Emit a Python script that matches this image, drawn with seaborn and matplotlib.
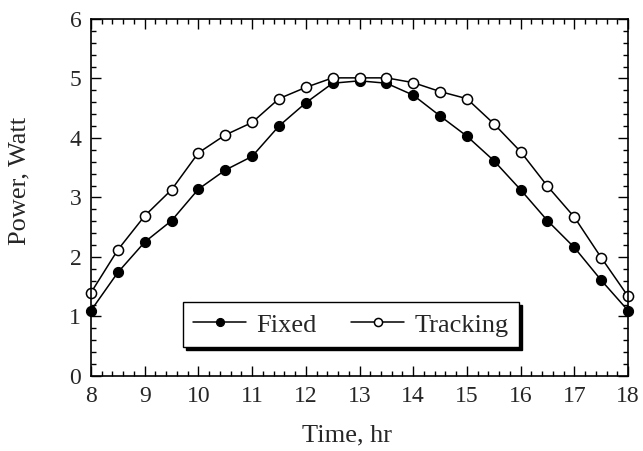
import matplotlib
matplotlib.use("Agg")
import matplotlib.pyplot as plt
from matplotlib.ticker import MultipleLocator
import numpy as np
import seaborn as sns
import pandas as pd

hours = [8, 8.5, 9, 9.5, 10, 10.5, 11, 11.5, 12, 12.5, 13,
         13.5, 14, 14.5, 15, 15.5, 16, 16.5, 17, 17.5, 18]
fixed = [1.10, 1.74, 2.25, 2.61, 3.14, 3.46, 3.69, 4.20, 4.59, 4.92, 4.96,
         4.92, 4.72, 4.37, 4.03, 3.62, 3.13, 2.61, 2.16, 1.61, 1.10]
tracking = [1.40, 2.12, 2.69, 3.13, 3.75, 4.05, 4.26, 4.66, 4.85, 5.01, 5.01,
            5.01, 4.93, 4.78, 4.66, 4.24, 3.77, 3.19, 2.67, 1.99, 1.34]

df = pd.DataFrame({"Time": hours, "Fixed": fixed, "Tracking": tracking})

sns.set_style("ticks")
plt.rcParams["font.family"] = ["Liberation Serif", "DejaVu Serif"]

fig = plt.figure(figsize=(6.43, 4.51), dpi=100)
ax = fig.add_axes([0.1415, 0.1663, 0.8352, 0.7917])

sns.lineplot(data=df, x="Time", y="Fixed", ax=ax, color="black", lw=1.1,
             marker="o", markersize=7.3, markerfacecolor="black",
             markeredgecolor="black", label="Fixed", clip_on=False)
sns.lineplot(data=df, x="Time", y="Tracking", ax=ax, color="black", lw=1.1,
             marker="o", markersize=7.3, markerfacecolor="white",
             markeredgecolor="black", markeredgewidth=1.1, label="Tracking",
             clip_on=False)

ax.set_xlim(8, 18)
ax.set_ylim(0, 6)
ax.xaxis.set_major_locator(MultipleLocator(1))
ax.xaxis.set_minor_locator(MultipleLocator(0.2))
ax.yaxis.set_major_locator(MultipleLocator(1))
ax.yaxis.set_minor_locator(MultipleLocator(0.2))
ax.tick_params(which="both", direction="in", top=True, right=True,
               labelsize=17, width=1, color="black")
ax.tick_params(which="major", length=7, pad=7)
ax.tick_params(which="minor", length=3.5)
for s in ax.spines.values():
    s.set_linewidth(1.2)
    s.set_color("black")

ax.set_xlabel("Time, hr", fontsize=19)
ax.set_ylabel("Power, Watt", fontsize=19)
ax.xaxis.set_label_coords(0.477, -0.135)
ax.yaxis.set_label_coords(-0.112, 0.546)

leg = ax.legend(loc="lower left", bbox_to_anchor=(0.171, 0.081), ncol=2,
                fontsize=19, frameon=True, fancybox=False, markerscale=0.8,
                handlelength=2.0, columnspacing=1.3, handletextpad=0.4,
                borderpad=0.4, borderaxespad=0,
                shadow={"color": "black", "alpha": 1})
leg.get_frame().set_edgecolor("black")
leg.get_frame().set_linewidth(1.0)

fig.savefig("out.png", dpi=100)
